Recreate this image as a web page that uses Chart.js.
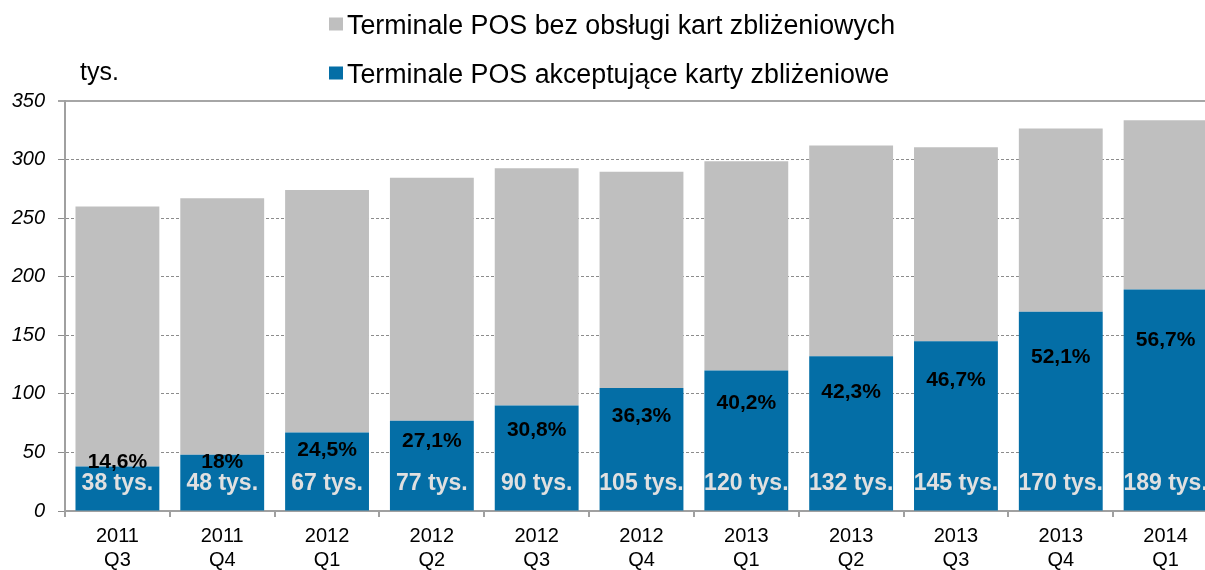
<!DOCTYPE html>
<html>
<head>
<meta charset="utf-8">
<script src="https://cdn.jsdelivr.net/npm/chart.js@4/dist/chart.umd.min.js"></script>
<style>
  html, body { margin: 0; padding: 0; background: #fff; overflow: hidden; width: 1205px; height: 570px; }
  canvas { display: block; }
</style>
</head>
<body>
<canvas id="c" width="1222" height="570"></canvas>
<script>
const categories = [
  ['2011', 'Q3'], ['2011', 'Q4'], ['2012', 'Q1'], ['2012', 'Q2'], ['2012', 'Q3'],
  ['2012', 'Q4'], ['2013', 'Q1'], ['2013', 'Q2'], ['2013', 'Q3'], ['2013', 'Q4'], ['2014', 'Q1']
];
const contactlessLabel = 'Terminale POS akceptujące karty zbliżeniowe';
const otherLabel = 'Terminale POS bez obsługi kart zbliżeniowych';
const contactless = [38, 48, 67, 77, 90, 105, 120, 132, 145, 170, 189];
const otherTerminals = [222, 219, 207, 207.5, 202.5, 184.5, 178.5, 180, 165.5, 156.5, 144.5];
const shareLabels = [14.6, 18, 24.5, 27.1, 30.8, 36.3, 40.2, 42.3, 46.7, 52.1, 56.7];
const yTicks = [0, 50, 100, 150, 200, 250, 300, 350];
const unitLabel = 'tys.';

const FONT = '"Liberation Sans", Arial, sans-serif';
const BLUE = '#046ea6';
const GREY = '#bfbfbf';

const labelPlugin = {
  id: 'labels',
  afterDatasetsDraw(chart) {
    const ctx = chart.ctx;
    const y = chart.scales.y;
    const meta = chart.getDatasetMeta(0);
    ctx.save();
    ctx.textAlign = 'center';
    ctx.textBaseline = 'middle';
    meta.data.forEach((bar, i) => {
      const v = contactless[i];
      ctx.font = 'bold 23px ' + FONT;
      ctx.fillStyle = '#e0e0e0';
      ctx.fillText(v + ' tys.', bar.x, y.getPixelForValue(23));
      ctx.font = 'bold 21px ' + FONT;
      ctx.fillStyle = '#000';
      const pv = Math.max(v * 0.77, 42);
      ctx.fillText(String(shareLabels[i]).replace('.', ',') + '%', bar.x, y.getPixelForValue(pv));
    });
    ctx.restore();
  },
  afterDraw(chart) {
    const ctx = chart.ctx;
    ctx.save();
    ctx.textAlign = 'left';
    ctx.textBaseline = 'alphabetic';
    ctx.font = '26.8px ' + FONT;
    const items = [chart.data.datasets[1], chart.data.datasets[0]];
    const baselines = [33.5, 82.5];
    items.forEach((ds, k) => {
      ctx.fillStyle = ds.backgroundColor;
      ctx.fillRect(329, baselines[k] - 16, 14, 13);
      ctx.fillStyle = '#000';
      ctx.fillText(ds.label, 347, baselines[k]);
    });
    ctx.font = '25px ' + FONT;
    ctx.fillText(unitLabel, 80, 80);
    ctx.restore();
  }
};

new Chart(document.getElementById('c'), {
  type: 'bar',
  data: {
    labels: categories,
    datasets: [
      { label: contactlessLabel, data: contactless, backgroundColor: BLUE, categoryPercentage: 1, barPercentage: 0.8 },
      { label: otherLabel, data: otherTerminals, backgroundColor: GREY, categoryPercentage: 1, barPercentage: 0.8 }
    ]
  },
  options: {
    responsive: false,
    devicePixelRatio: 1,
    animation: false,
    layout: { padding: { top: 101, right: 4, left: 0, bottom: 0 } },
    plugins: { legend: { display: false }, tooltip: { enabled: false } },
    scales: {
      x: {
        stacked: true,
        afterFit(s) { s.height = 59; },
        grid: { offset: true, drawOnChartArea: false, tickLength: 6, color: '#a0a0a0', lineWidth: 2 },
        border: { display: true, color: '#a0a0a0', width: 2 },
        ticks: { color: '#000', font: { family: FONT, size: 20, lineHeight: 1.2 }, padding: 7, maxRotation: 0 }
      },
      y: {
        stacked: true,
        min: 0, max: 350,
        afterFit(s) { s.width = 65; },
        afterBuildTicks(s) { s.ticks = yTicks.map(v => ({ value: v })); },
        grid: {
          color: c => (c.tick && c.tick.value === 350) ? '#a6a6a6' : '#8c8c8c',
          lineWidth: c => (c.tick && c.tick.value === 350) ? 2 : 1,
          tickLength: 7
        },
        border: {
          display: true, color: '#a0a0a0', width: 2,
          dash: c => (c.type === 'tick' && c.tick && c.tick.value !== 350 && c.tick.value !== 0) ? [3, 2] : []
        },
        ticks: { color: '#000', font: { family: FONT, size: 20, style: 'italic' }, padding: 13 }
      }
    }
  },
  plugins: [labelPlugin]
});
</script>
</body>
</html>
